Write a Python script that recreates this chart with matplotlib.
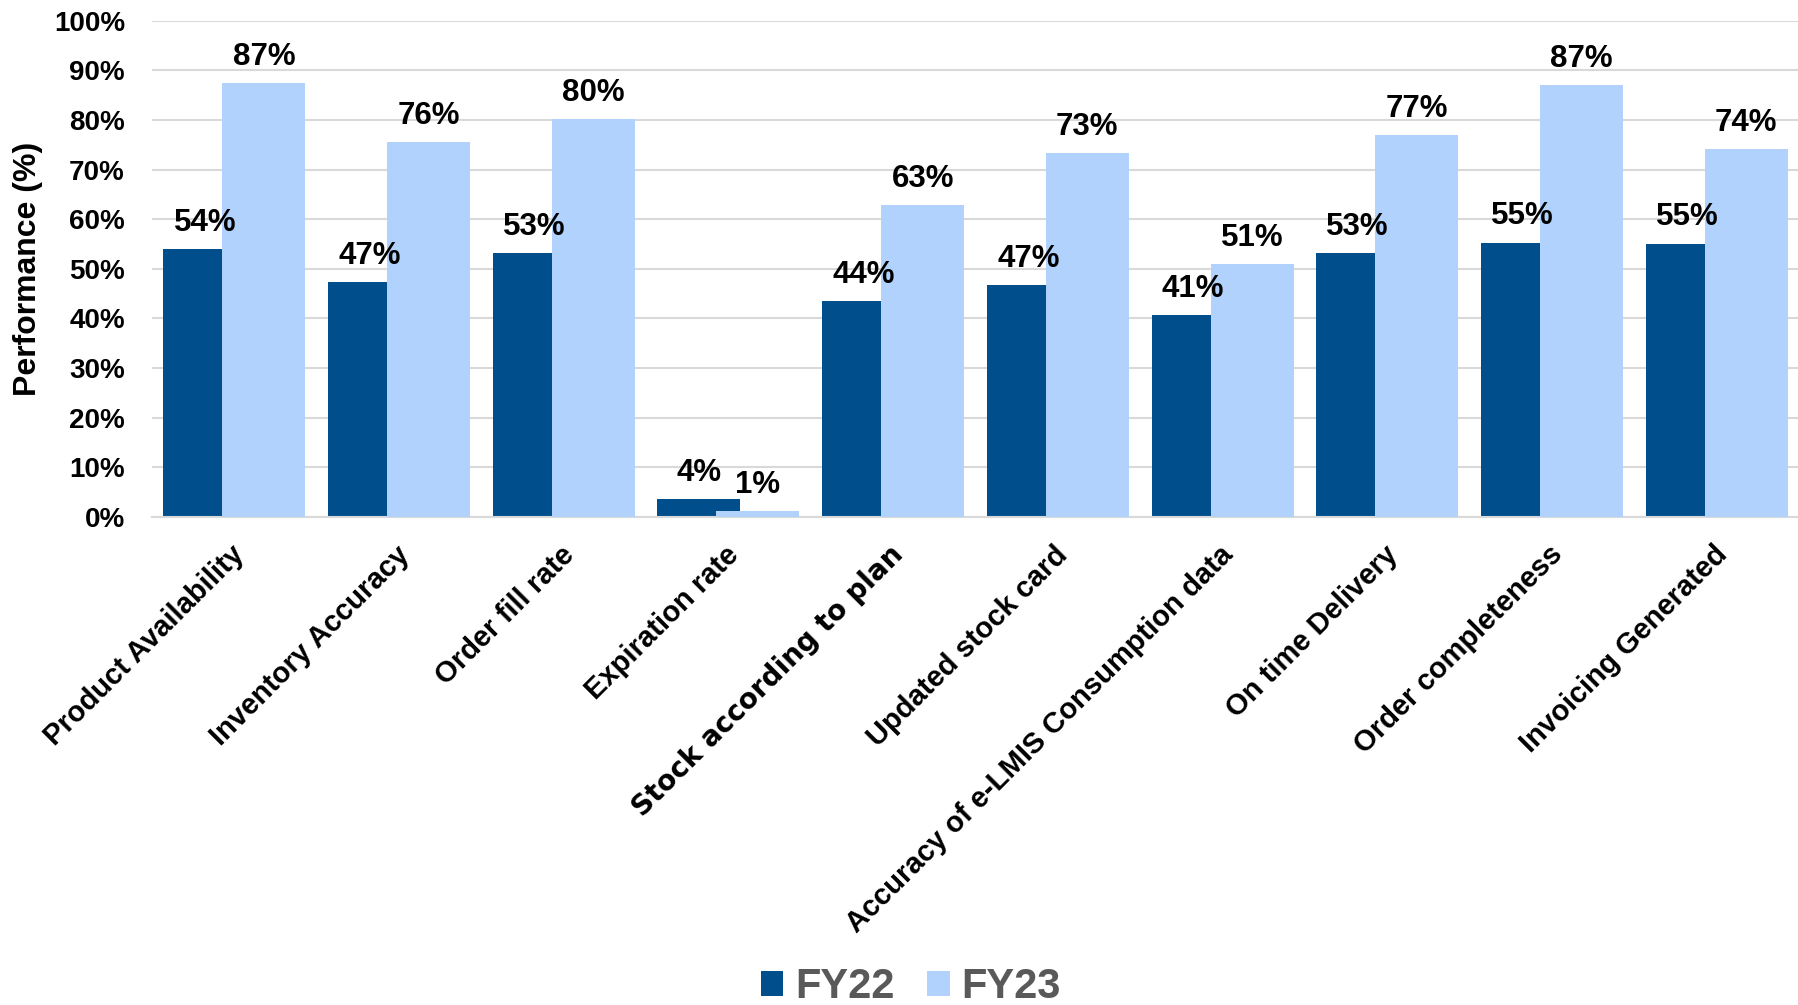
import numpy as np
import matplotlib
matplotlib.use("Agg")
import matplotlib.pyplot as plt
import matplotlib.transforms as mtransforms

plt.rcParams['font.family'] = ['Liberation Sans', 'DejaVu Sans']
plt.rcParams['font.weight'] = 'bold'

categories = ["Product Availability", "Inventory Accuracy", "Order fill rate",
              "Expiration rate", "Stock according to plan", "Updated stock card",
              "Accuracy of e-LMIS Consumption data", "On time Delivery",
              "Order completeness", "Invoicing Generated"]
fy22 = [54.0, 47.4, 53.2, 3.7, 43.6, 46.8, 40.7, 53.2, 55.3, 55.1]
fy23 = [87.4, 75.5, 80.1, 1.2, 62.8, 73.4, 51.0, 77.0, 87.1, 74.1]
y_ticks = [0, 10, 20, 30, 40, 50, 60, 70, 80, 90, 100]

dark = '#004E8C'
light = '#B0D2FC'

fig = plt.figure(figsize=(17.99, 10.05), dpi=100)
ax = fig.add_axes([152/1799, 1 - 517/1005, 1 - 152/1799, (517 - 20.7)/1005])

x = np.arange(len(categories))
off = 0.179
w = 0.504
b1 = ax.bar(x - off, fy22, w, color=dark, label='FY22', zorder=2)
b2 = ax.bar(x + off, fy23, w, color=light, label='FY23', zorder=3)

# value labels above each bar
for bars, vals in ((b1, fy22), (b2, fy23)):
    for rect, v in zip(bars, vals):
        ax.annotate(f"{v:.0f}%", (rect.get_x() + rect.get_width()/2, v),
                    xytext=(0, 13), textcoords='offset points',
                    ha='center', va='baseline', fontsize=22.5,
                    fontweight='bold', zorder=5)

ax.set_xlim(-0.5, len(categories) - 0.5)
ax.set_ylim(0, 100)
ax.set_yticks(y_ticks)
ax.set_yticklabels([f"{t}%" for t in y_ticks], fontsize=20, fontweight='bold')
ax.tick_params(axis='y', length=0, pad=19.5)
ax.yaxis.grid(True, color='#D9D9D9', linewidth=1.5)
ax.set_axisbelow(True)
for s in ('top', 'right', 'left'):
    ax.spines[s].set_visible(False)
ax.spines['bottom'].set_color('#D9D9D9')
ax.spines['bottom'].set_linewidth(1.5)

ax.set_xticks(x)
ax.set_xticklabels(categories, rotation=45, ha='right', va='center',
                   rotation_mode='anchor', fontsize=21, fontweight='bold')
ax.tick_params(axis='x', length=0, pad=24)
shift = mtransforms.ScaledTranslation(6/100, 0, fig.dpi_scale_trans)
for lbl in ax.get_xticklabels():
    lbl.set_transform(lbl.get_transform() + shift)
# this one label is set in a Verdana-like face in the original
ax.get_xticklabels()[4].set_family('DejaVu Sans')
ax.get_xticklabels()[4].set_fontsize(20)

ax.set_ylabel("Performance (%)", fontsize=23, fontweight='bold', labelpad=8)

fig.legend(loc='center', bbox_to_anchor=(911/1799, 1 - 987/1005), ncol=2,
           frameon=False, prop={'size': 30, 'weight': 'bold'},
           labelcolor='#595959', handlelength=0.53, handleheight=0.53,
           handletextpad=0.29, columnspacing=0.79, borderpad=0)

fig.savefig("out.png", dpi=100)
